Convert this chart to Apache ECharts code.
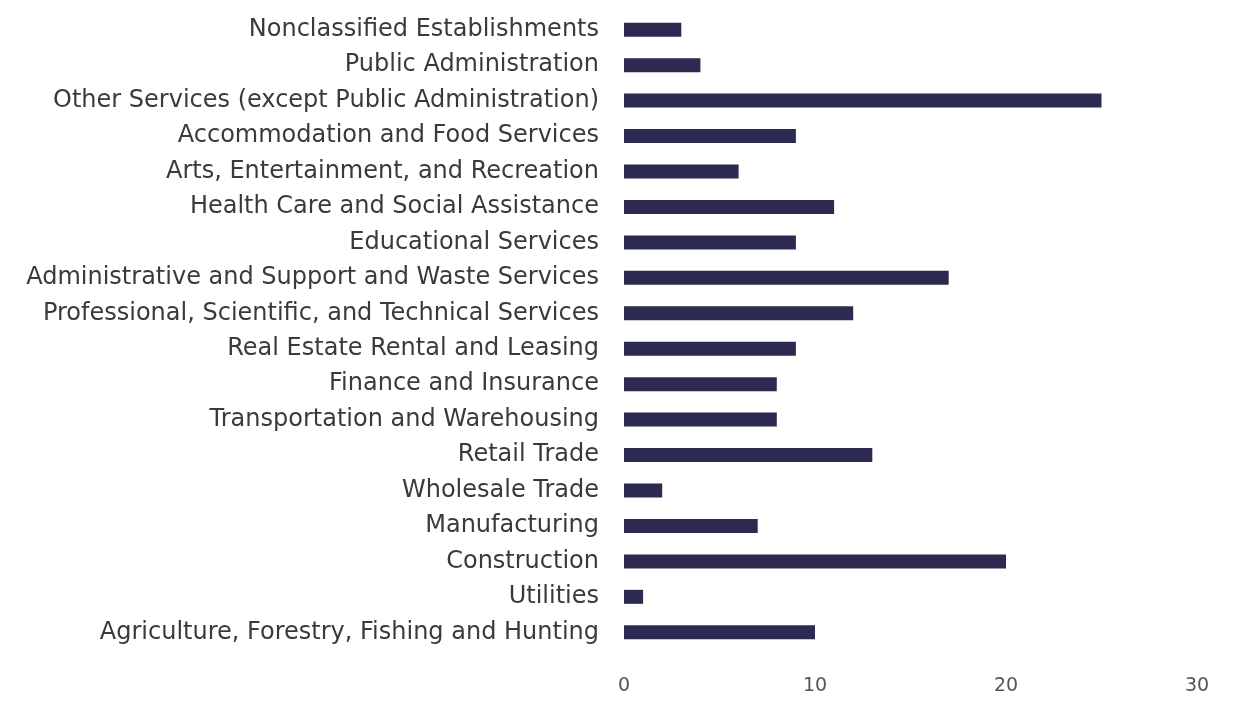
<!DOCTYPE html>
<html><head><meta charset="utf-8">
<script src="https://cdn.jsdelivr.net/npm/echarts@6/dist/echarts.min.js"></script>
<style>html,body{margin:0;padding:0;background:#fff}#c{width:1238px;height:701px}</style>
</head><body><div id="c"></div>
<script>
const categories = [
  "Agriculture, Forestry, Fishing and Hunting",
  "Utilities",
  "Construction",
  "Manufacturing",
  "Wholesale Trade",
  "Retail Trade",
  "Transportation and Warehousing",
  "Finance and Insurance",
  "Real Estate Rental and Leasing",
  "Professional, Scientific, and Technical Services",
  "Administrative and Support and Waste Services",
  "Educational Services",
  "Health Care and Social Assistance",
  "Arts, Entertainment, and Recreation",
  "Accommodation and Food Services",
  "Other Services (except Public Administration)",
  "Public Administration",
  "Nonclassified Establishments"
];
const values = [10, 1, 20, 7, 2, 13, 8, 8, 9, 12, 17, 9, 11, 6, 9, 25, 4, 3];
const xTicks = [0, 10, 20, 30];

const chart = echarts.init(document.getElementById('c'));
chart.setOption({
  animation: false,
  grid: { left: 624, right: 41, top: 12, bottom: 51, containLabel: false },
  xAxis: {
    type: 'value', min: xTicks[0], max: xTicks[xTicks.length - 1], interval: 10,
    axisLine: { show: false }, axisTick: { show: false }, splitLine: { show: false },
    axisLabel: { color: '#555', fontSize: 19, fontFamily: 'DejaVu Sans', margin: 27 }
  },
  yAxis: {
    type: 'category', data: categories,
    axisLine: { show: false }, axisTick: { show: false },
    axisLabel: { color: '#3a3a3a', fontSize: 24, fontFamily: 'DejaVu Sans', margin: 25 }
  },
  series: [{
    type: 'bar', data: values, barWidth: 14,
    itemStyle: { color: '#2c2a50' }
  }]
});
</script></body></html>
